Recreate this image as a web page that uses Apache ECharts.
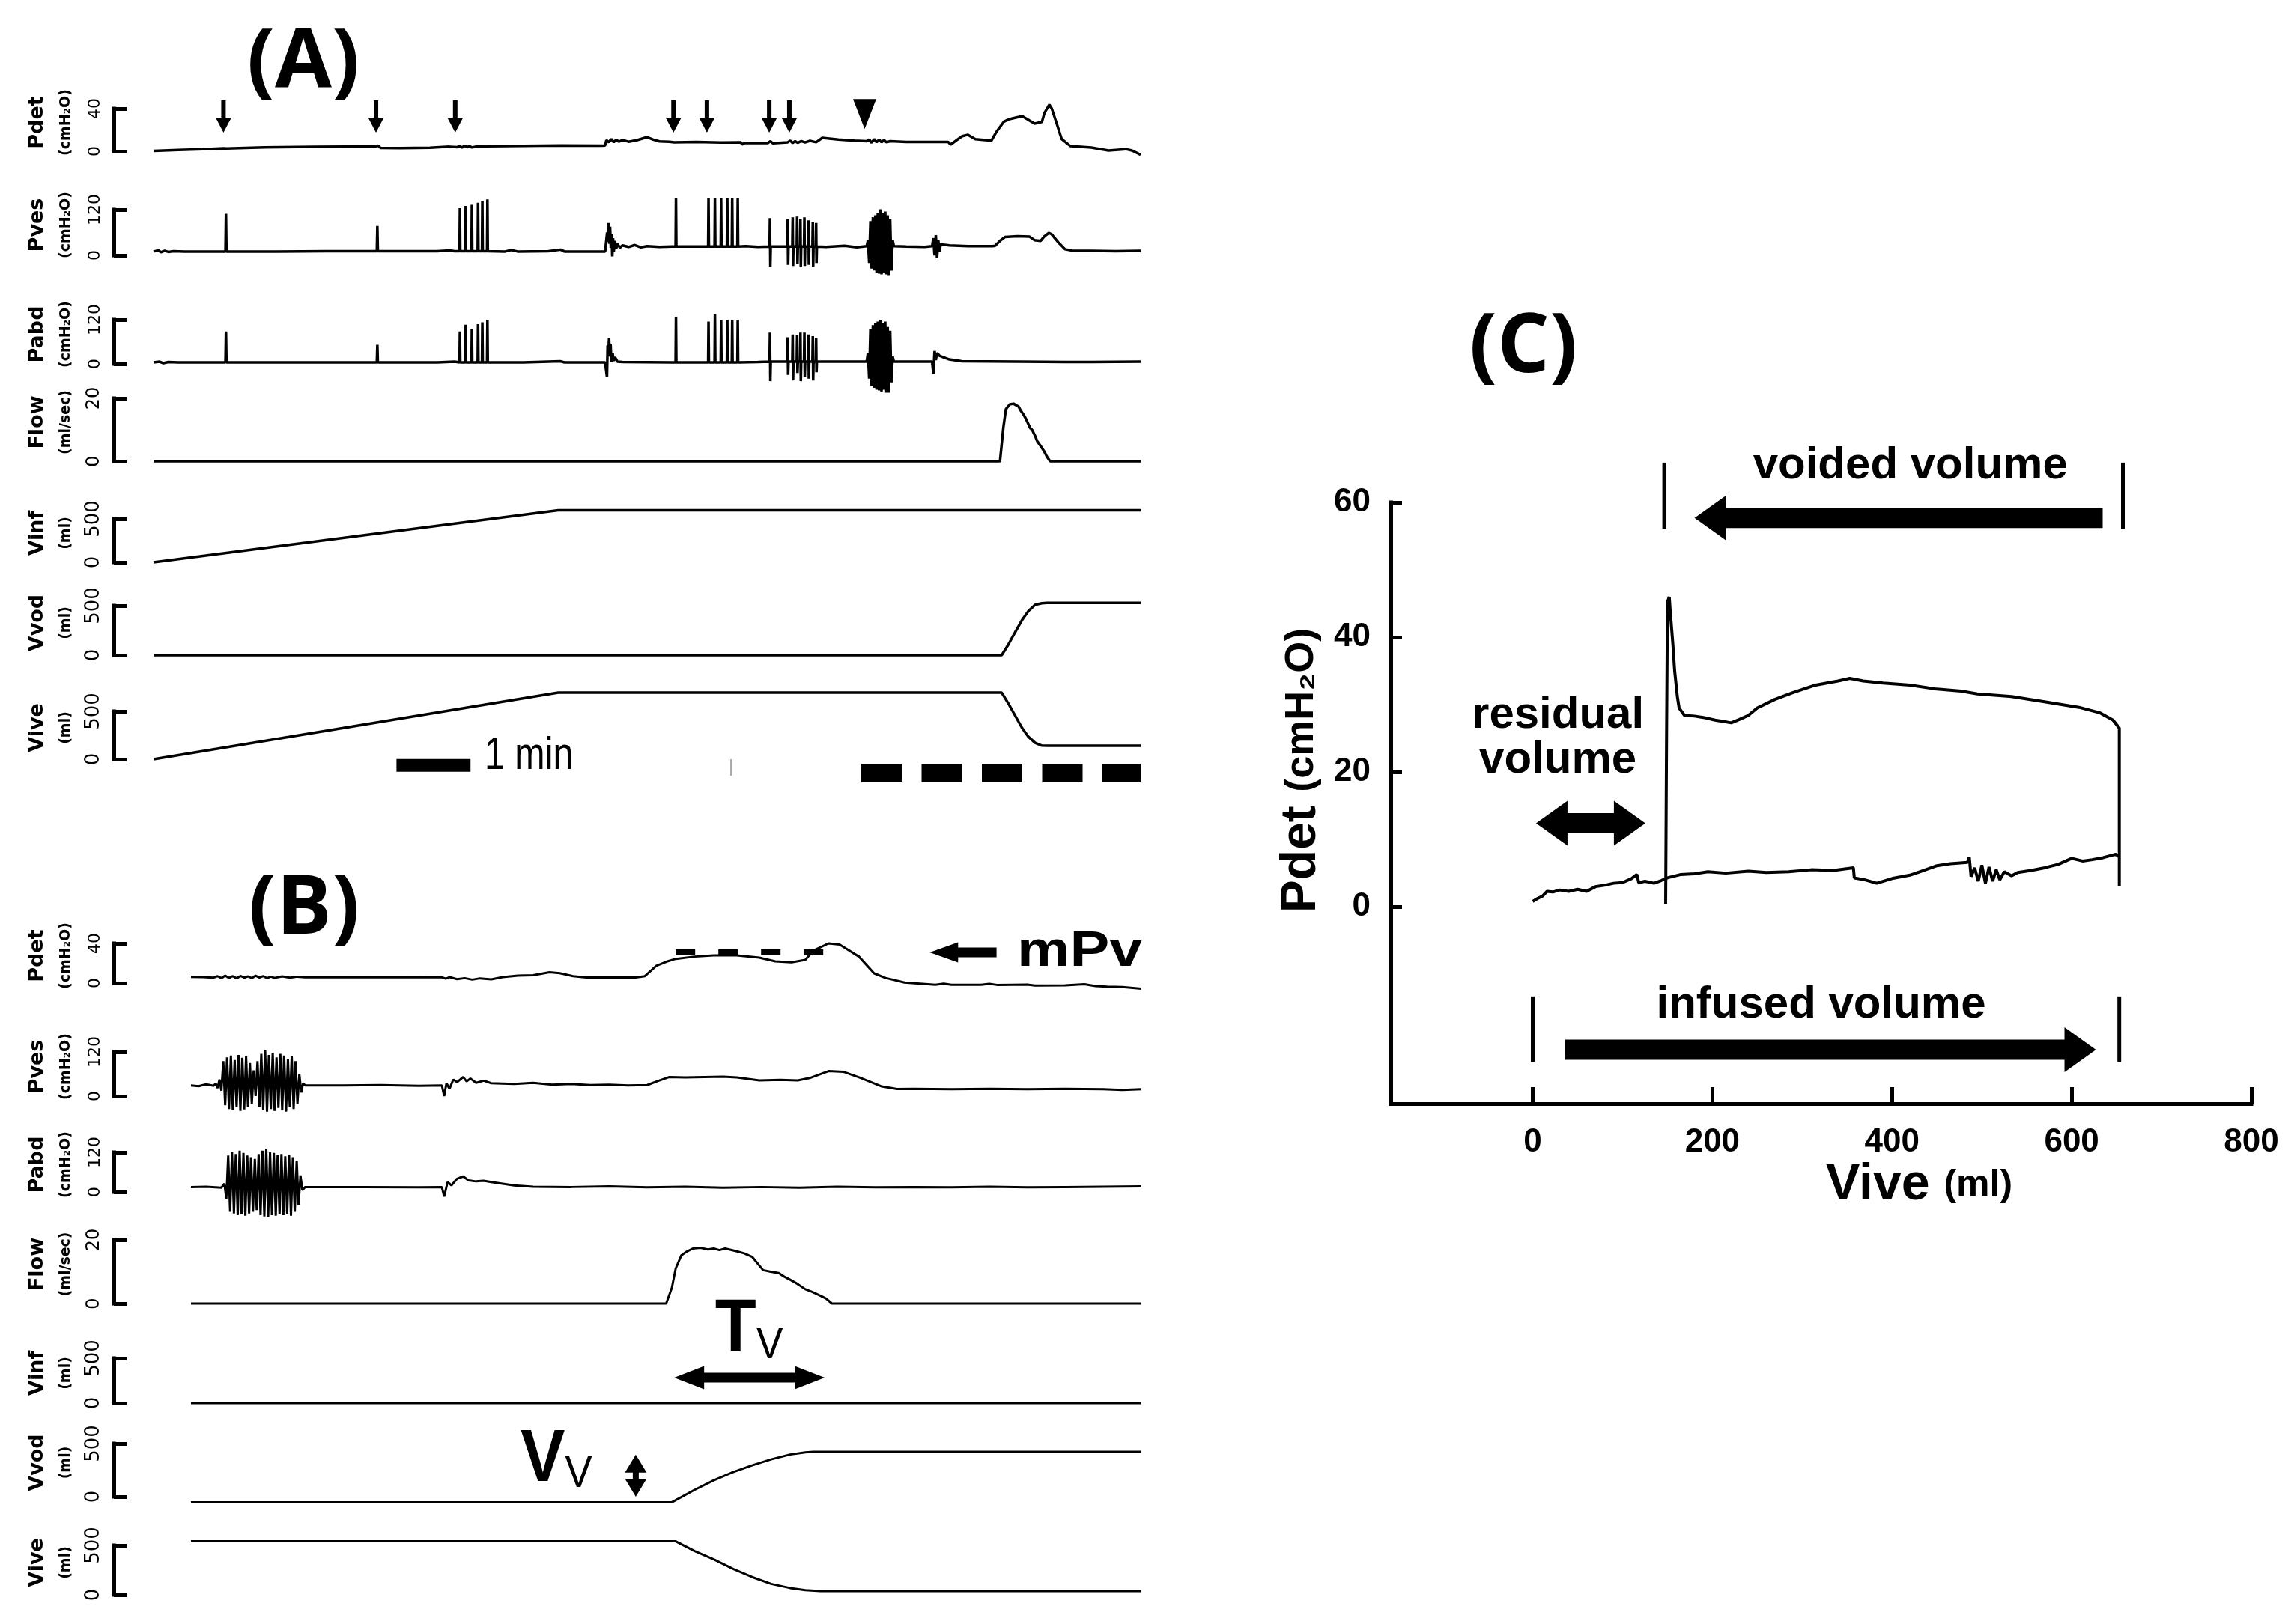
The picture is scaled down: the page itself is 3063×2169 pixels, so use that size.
<!DOCTYPE html>
<html><head><meta charset="utf-8">
<script src="https://cdn.jsdelivr.net/npm/echarts@6/dist/echarts.min.js"></script>
<style>html,body{margin:0;padding:0;background:#fff}#c{width:3063px;height:2169px}</style>
</head><body><div id="c"></div>
<script>
// ================= DATA =================
const rowNames = ['Pdet','Pves','Pabd','Flow','Vinf','Vvod','Vive'];
const rowUnits = ['(cmH₂O)','(cmH₂O)','(cmH₂O)','(ml/sec)','(ml)','(ml)','(ml)'];
const rowMax = [40,120,120,20,500,500,500];
const timeMaxA = 800, timeMaxB = 250;

// ---- Panel A traces [time s, value] ----
const aPdet = [[0,0.3],[20,1.2],[40,2],[57,2.8],[58,3.5],[59,2.6],[90,3.6],[130,4.2],[180,4.5],[182,5.3],[184,3.2],[200,3],[224,3.4],[240,4.3],[246,3.8],[248,5],[250,3.5],[252,5.2],[254,3.8],[256,4.8],[258,3.6],[262,4.6],[270,4.8],[300,5.1],[330,5.4],[363,5.2],[366,5.5],[367,10.5],[369,8.5],[371,11.5],[373,8.5],[375,11],[377,9],[380,10.5],[385,9],[392,10.5],[400,13.3],[405,11],[410,9.3],[418,9],[422,8.5],[440,8.8],[460,8.3],[476,8.5],[477,6.3],[479,7.7],[498,7.8],[500,9.5],[502,7.5],[514,8.5],[516,10],[518,7.8],[520,9.5],[522,8],[525,9.5],[528,8.3],[532,9.8],[537,8.5],[542,12.6],[555,11],[568,10],[578,9.5],[580,11],[582,8],[584,11.5],[586,8.5],[588,11],[590,8.5],[592,10.5],[594,8.5],[597,9.5],[610,8.8],[644,8.8],[646,6.3],[655,14],[660,15.5],[666,11.4],[679,10],[683,18],[689,27.6],[693,30],[704,33],[714,26],[720,27.5],[722,35.8],[726,43.7],[728,40],[732,26],[736,11.5],[743,4.9],[760,3.5],[774,0.7],[788,2],[793,0.7],[800,-3.2]];
const aPves = [[0,10],[4,13],[6,8],[9,12],[12,9],[16,11],[25,10],[58.3,10],[58.7,109],[59.1,10],[100,10],[140,11],[181,11],[181.4,77],[181.8,11],[230,11],[240,13],[244,11],[248,11],[248.3,124],[248.6,11],[252.7,11],[253,130],[253.3,11],[257.7,11],[258,133],[258.3,11],[262.7,11],[263,138],[263.3,11],[266.2,11],[266.5,143],[266.8,11],[270.3,11],[270.6,147],[270.9,11],[285,10],[290,14],[295,10],[320,11],[330,15],[333,10],[366,10],[367,10],[367.6,60],[368.2,35],[368.8,85],[369.4,30],[370,75],[370.6,20],[371.2,55],[371.8,-3],[372.4,45],[373,10],[374,38],[375,18],[376,30],[378,20],[380,26],[385,22],[390,27],[395,21],[400,24],[410,22],[420,23],[423.1,23],[423.4,151],[423.7,23],[449.5,23],[449.8,151],[450.1,23],[454.7,23],[455,151],[455.3,23],[459.7,23],[460,151],[460.3,23],[464.7,23],[465,151],[465.3,23],[468.7,23],[469,151],[469.3,23],[473.2,23],[473.5,151],[473.8,23],[480,24],[490,22],[499.3,23],[499.6,98],[499.9,-30],[500.2,23],[513.7,23],[514,95],[514.3,-25],[514.6,23],[517.7,23],[518,100],[518.3,-28],[518.6,23],[521.3,23],[521.6,102],[521.9,-22],[522.2,23],[524,23],[524.3,96],[524.6,-30],[524.9,23],[527.2,23],[527.5,100],[527.8,-28],[528.1,23],[530.5,23],[530.8,92],[531.1,-25],[531.4,23],[534,23],[534.3,88],[534.6,-30],[534.9,23],[536.7,23],[537,85],[537.3,-20],[537.6,23],[545,22],[560,25],[570,21],[578,24],[579,40],[580,-20],[581,90],[582,-35],[583,100],[584,-40],[585,105],[586,-45],[587,112],[588,-48],[589,121],[590,-50],[591,110],[592,-45],[593,115],[594,-50],[595,105],[596,-52],[597,95],[598,-40],[599,40],[600,24],[610,23],[625,22],[631,24],[632,45],[633,0],[634,53],[635,-7],[636,40],[637,10],[638,30],[640,28],[645,26],[660,24],[680,24],[682,25],[686,38],[690,48],[700,50],[710,49],[714,40],[719,38],[722,50],[725.5,59],[728,55],[733,35],[738.7,16],[745,12],[760,12],[780,11],[800,12]];
const aPabd = [[0,4],[5,6],[8,2],[12,5],[20,4],[58.3,4],[58.7,88],[59.1,4],[100,4],[181,4],[181.4,52],[181.8,4],[230,4],[244,6],[248,4],[248.3,88],[248.6,4],[252.7,4],[253,106],[253.3,4],[257.7,4],[258,95],[258.3,4],[262.7,4],[263,108],[263.3,4],[266.2,4],[266.5,113],[266.8,4],[270.3,4],[270.6,120],[270.9,4],[300,4],[330,7],[333,4],[366,4],[367,4],[367.5,-36],[368,50],[368.6,30],[369.2,69],[369.8,20],[370.4,55],[371,5],[372,30],[373,8],[374,18],[376,6],[380,5],[420,4],[423.1,4],[423.4,128],[423.7,4],[449.5,4],[449.8,115],[450.1,4],[454.7,4],[455,135],[455.3,4],[459.7,4],[460,120],[460.3,4],[464.7,4],[465,120],[465.3,4],[468.7,4],[469,120],[469.3,4],[473.2,4],[473.5,120],[473.8,4],[490,5],[499.3,6],[499.6,85],[499.9,-47],[500.2,6],[513.7,6],[514,72],[514.3,-30],[514.6,6],[517.7,6],[518,80],[518.3,-45],[518.6,6],[521.3,6],[521.6,78],[521.9,-25],[522.2,6],[524,6],[524.3,85],[524.6,-47],[524.9,6],[527.2,6],[527.5,85],[527.8,-35],[528.1,6],[530.5,6],[530.8,80],[531.1,-40],[531.4,6],[534,6],[534.3,75],[534.6,-45],[534.9,6],[536.7,6],[537,70],[537.3,-23],[537.6,6],[560,6],[578,6],[579,30],[580,-40],[581,95],[582,-60],[583,105],[584,-65],[585,110],[586,-70],[587,115],[588,-72],[589,120],[590,-75],[591,112],[592,-70],[593,115],[594,-78],[595,100],[596,-78],[597,90],[598,-50],[599,20],[600,6],[620,6],[631,6],[632,-27],[633,35],[634,10],[635,30],[637,22],[640,18],[645,12],[655,7],[700,6],[740,5],[760,5],[800,6]];
const aFlow = [[0,0],[686,0],[688.7,10.6],[690.8,16.6],[694,18.1],[697,18.3],[701,17.4],[703,16],[705,14.9],[707,13.5],[708,13.8],[710.4,10.6],[712,10],[714.4,8.1],[716,6.5],[717,6.8],[719.9,4.3],[722,3],[724,1.5],[726.6,0],[800,0]];
const aVinf = [[0,0],[328,600],[800,600]];
const aVvod = [[0,0],[687.4,0],[692.8,108],[698.2,230],[703.7,352],[709.1,447],[714.5,509],[719.9,525],[724,528],[800,528]];
const aVive = [[0,0],[328,695],[687.4,695],[692.8,581],[698.2,457],[703.7,330],[709.1,233],[714.5,171],[719.9,142],[724,140],[800,140]];

// ---- Panel B traces ----
const bPdet = [[0,6.3],[3,6],[6,5.5],[7,7],[8,5],[9,7.5],[10,5.2],[11,7],[12,4.8],[13,7.2],[14,5.5],[15,6.8],[16,5],[17,7.5],[18,5.5],[19,7],[20,5],[21,6.5],[22,5.2],[24,6.8],[26,5.5],[28,6.5],[30,5.8],[40,5.8],[55,6],[66,5.8],[67,4.5],[68,6],[70,4],[72,5],[74,3.5],[76,4.8],[79,3.8],[82,6],[86,7.5],[90,8],[94.3,11],[97,10],[100.5,7],[104,5.6],[110,5.6],[117,5.6],[119.4,7],[122.4,17.4],[125,21.5],[127.5,24.4],[132.5,26.7],[137.5,28],[143.6,28],[149.5,25.7],[153.7,21.9],[158,21],[161.6,23.4],[163.7,32.8],[167.7,40],[170.6,38.8],[175.7,26.7],[179.7,9.8],[182.7,5.2],[187.7,0.6],[195.8,-1.7],[198,-0.5],[200,-1.7],[207.8,-1.7],[210,-0.8],[212,-1.8],[220,-1.5],[222,-2.5],[230,-2.2],[235,-1.2],[238,-3],[241,-3.6],[245,-4],[250,-5.7]];
const bPves = [[0,29],[2,27],[4,32],[6,28],[6.5,35],[7,22],[7.5,45],[8,15],[8.5,95],[9,-25],[9.5,105],[10,-35],[10.5,110],[11,-38],[11.5,98],[12,-30],[12.5,112],[13,-40],[13.5,104],[14,-36],[14.5,108],[15,-30],[15.5,90],[16,-20],[16.5,70],[17,0],[17.5,95],[18,-30],[18.5,115],[19,-38],[19.5,126],[20,-42],[20.5,112],[21,-35],[21.5,118],[22,-40],[22.5,105],[23,-32],[23.5,115],[24,-38],[24.5,110],[25,-42],[25.5,100],[26,-30],[26.5,108],[27,-35],[27.5,95],[28,-20],[28.5,60],[29,10],[29.5,35],[30,29],[40,29],[50,30],[60,28],[66,29],[66.6,0],[67.2,35],[68,20],[69,45],[70,38],[71.6,52],[72.5,40],[73.5,48],[75,36],[77,42],[79,35],[85,33],[90,36],[95,31],[100,33],[105,30],[110,31],[115,29],[120,30],[122.5,40],[125.7,51.7],[130,51],[135,52],[140,53],[143.6,51],[149.5,42.7],[155,44],[159.6,42.7],[163,50],[167.7,68],[171.7,66],[176,50],[181.7,26.4],[185.7,19.3],[190,20],[200,19],[210,20],[220,19],[230,20],[240,19],[245,17],[250,19]];
const bPabd = [[0,14.6],[4,16],[8,13],[8.8,25],[9.3,-20],[9.8,110],[10.3,-60],[10.8,120],[11.3,-65],[11.8,115],[12.3,-70],[12.8,125],[13.3,-68],[13.8,118],[14.3,-72],[14.8,110],[15.3,-65],[15.8,105],[16.3,-60],[16.8,100],[17.3,-55],[17.8,115],[18.3,-70],[18.8,125],[19.3,-74],[19.8,131],[20.3,-76],[20.8,120],[21.3,-70],[21.8,118],[22.3,-72],[22.8,112],[23.3,-68],[23.8,115],[24.3,-70],[24.8,108],[25.3,-66],[25.8,112],[26.3,-72],[26.8,105],[27.3,-60],[27.8,95],[28.3,-40],[28.8,50],[29.3,5],[30,14.6],[45,15],[60,14],[66,14.6],[66.6,-14],[67.5,30],[68.5,20],[70,40],[71.6,47],[73,35],[75,32],[77,34],[79,30],[85,20],[90,16],[100,15],[110,17],[120,14],[130,16],[140,13],[150,15],[160,13],[170,16],[180,14],[190,15],[200,14],[210,16],[220,14],[230,15],[240,16],[250,17]];
const bFlow = [[0,0],[125,0],[126.5,5],[127.5,11],[129,15.2],[130.5,16.4],[132,17.3],[134,17.5],[136,17],[137.5,17.3],[139,16.8],[140.5,17.3],[142,16.9],[143.6,16.4],[145.5,15.8],[147.6,14.7],[150.5,10.5],[152.5,10],[154.6,9.6],[156,8.5],[157.6,7.5],[159.5,6.2],[161.6,4.5],[163.5,3.6],[165.7,2.4],[167,1.6],[168.6,0],[250,0]];
const bVinf = [[0,0],[250,0]];
const bVvod = [[0,-52],[126.5,-52],[132.5,65],[137.5,154],[142.6,231],[147.6,295],[152.6,351],[157.6,397],[161.6,418],[163.7,423],[250,423]];
const bVive = [[0,541],[127.5,541],[132.5,442],[137.5,359],[142.6,263],[147.6,180],[152.6,111],[157.6,69],[161.6,47],[165.6,37],[250,37]];

// ---- Panel C: Pdet vs Vive ----
const cFill = [[0,0.8],[5,1.2],[11,1.6],[16,2.3],[22.5,2.2],[30,2.5],[40,2.3],[50,2.6],[60,2.3],[70,3],[80,3.2],[90,3.5],[100,3.6],[110,4.2],[116,4.8],[118,3.6],[125,3.8],[135,3.5],[143,3.9],[150,4.3],[165,4.8],[180,4.9],[195,5.2],[215,5.0],[240,5.3],[260,5.1],[285,5.2],[310,5.5],[335,5.4],[357,5.8],[358,4.3],[370,4.0],[383,3.5],[400,4.2],[420,4.7],[435,5.4],[450,6.1],[465,6.4],[484,6.6],[486,7.4],[488,4.5],[492,5.8],[496,3.8],[500,6.2],[504,3.5],[508,5.9],[512,3.8],[516,5.5],[520,4.0],[525,5.2],[533,4.6],[540,5.1],[555,5.4],[570,5.8],[585,6.3],[600,7.2],[612,6.8],[623,7],[635,7.3],[649,7.8],[653,7.4]];
const cVoid = [[653,3.1],[653,26.5],[646,27.7],[631,28.8],[608,29.6],[571,30.4],[533,31.2],[495,31.6],[477,32],[450,32.3],[420,32.9],[390,33.2],[368,33.5],[353,33.9],[340,33.5],[315,32.9],[290,31.8],[270,30.8],[250,29.5],[240,28.4],[230,27.8],[221,27.3],[212,27.5],[203,27.7],[190,28.1],[180,28.3],[169,28.4],[163,29.5],[161,31.2],[158,35],[156,39],[153,44],[152,46],[150,45.2],[149,24.9],[148,0.4]];
const cXTicks = [0,200,400,600,800];
const cYTicks = [0,20,40,60];

// ---- Annotations (data coordinates) ----
const aArrowTimes = [56.7,180.3,244.5,421.4,448.5,499,515.3];
const aArrowFrom = 47.7, aArrowTo = 17.5;
const aTriangle = [[576.3,35]];
const aScaleBar = [[196.9,-65,256.9,-65]];           // 1 min = 60 s
const aScaleText = [[268.3,31]];
const aVoidBar = [[573.6,-145,800,-145]];
const aFaintTick = [[468,0,468,-172]];
const bMpvLine = [[127.5,31.1,166.7,31.1]];
const bMpvArrow = [[211.9,31,194.3,31,0,1]];
const bMpvText = [[233.8,31.3]];
const bTvArrow = [[127.1,283,166.7,283,1,1]];
const bTvText = [[146.8,808]];
const bVvArrow = [[117,397,117,0,1,1]];
const bVvText = [[96.1,347]];
const cArrows = [[634.5,57.7,180.2,57.7,0,1],[36,-21.2,627,-21.2,0,1],[3.7,12.4,125.4,12.4,1,1]];
const cBars = [[146.4,65.9,146.4,56.1],[657,65.9,657,56.1],[0,-13.3,0,-23],[653,-13.3,653,-23]];
const cTexts = ['voided volume','residual\nvolume','infused volume'];
const cTextPos = [[420.4,65.4],[28,25.1],[321,-14.6]];

// ================= LAYOUT / STYLE =================
const bracketX = 152;
const layoutA = {left:205, right:1523, tops:[145,280,427,532,693,809,950], bottoms:[202,341,486,616,751,875,1014]};
const layoutB = {left:255, right:1524, tops:[1260,1405,1539,1656,1814,1928,2064], bottoms:[1313,1464,1592,1741,1874,1999,2130]};
const rowLabelFont = [22,22,22,24,26,26,26];
const FONT = '"Liberation Sans", Arial, sans-serif';
const DJV = '"DejaVu Sans", Verdana, sans-serif';

const grids = [], xAxes = [], yAxes = [], series = [];

function addRow(i, layout, tMax, data, lw) {
  const gi = grids.length;
  const dx = layout.left - bracketX;
  grids.push({left: layout.left, top: layout.tops[i], width: layout.right - layout.left,
    height: layout.bottoms[i] - layout.tops[i], containLabel:false, outerBoundsMode:'none'});
  xAxes.push({gridIndex:gi, type:'value', min:0, max:tMax, show:false});
  yAxes.push({
    gridIndex:gi, type:'value', min:0, max:rowMax[i], interval:rowMax[i],
    position:'left', offset: dx,
    axisLine:{show:true, onZero:false, lineStyle:{color:'#000', width:5, cap:'square'}},
    axisTick:{show:true, inside:true, length:17, lineStyle:{color:'#000', width:5}},
    axisLabel:{show:false}, splitLine:{show:false}
  });
  series.push({type:'line', xAxisIndex:gi, yAxisIndex:gi, data:data, symbol:'none', showSymbol:false,
    clip:false, silent:true, lineStyle:{color:'#000', width:lw}, z:2});
  const fs = rowLabelFont[i];
  series.push({type:'custom', xAxisIndex:gi, yAxisIndex:gi, data:[[0,0],[0,rowMax[i]]], clip:false, silent:true, z:3,
    renderItem:function (params, api) {
      const v = api.value(1); const p = api.coord([0, v]);
      return {type:'text', x:p[0]-dx-14, y:p[1], rotation:Math.PI/2,
        style:{text:String(v), font:fs + 'px ' + DJV, fill:'#000', align:'center', verticalAlign:'bottom'}};
    }});
  series.push({type:'custom', xAxisIndex:gi, yAxisIndex:gi, data:[[0,rowMax[i]/2]], clip:false, silent:true, z:3,
    renderItem:function (params, api) {
      const p = api.coord([0, api.value(1)]);
      return {type:'text', x:p[0]-dx-50, y:p[1]-10, rotation:Math.PI/2,
        style:{text:'{a|' + rowNames[i] + '}\n{b|' + rowUnits[i] + '}', align:'center', verticalAlign:'bottom',
          rich:{a:{font:'bold 27px ' + DJV, fill:'#000', lineHeight:48, align:'center'},
                b:{font:'bold 19px ' + DJV, fill:'#000', lineHeight:28, align:'center'}}}};
    }});
  return gi;
}

function arrowRender(sw, hw, hl) {
  return function (params, api) {
    const p1 = api.coord([api.value(0), api.value(1)]);
    const p2 = api.coord([api.value(2), api.value(3)]);
    const h1 = api.value(4), h2 = api.value(5);
    const dx = p2[0]-p1[0], dy = p2[1]-p1[1], L = Math.hypot(dx, dy);
    const ux = dx/L, uy = dy/L, nx = -uy, ny = ux;
    const A = h1 ? [p1[0]+ux*hl, p1[1]+uy*hl] : p1;
    const B = h2 ? [p2[0]-ux*hl, p2[1]-uy*hl] : p2;
    const off = (P, k) => [P[0]+nx*k, P[1]+ny*k];
    const pts = [];
    if (h1) { pts.push(p1); pts.push(off(A, hw/2)); }
    pts.push(off(A, sw/2)); pts.push(off(B, sw/2));
    if (h2) { pts.push(off(B, hw/2)); pts.push(p2); pts.push(off(B, -hw/2)); }
    pts.push(off(B, -sw/2)); pts.push(off(A, -sw/2));
    if (h1) { pts.push(off(A, -hw/2)); }
    return {type:'polygon', shape:{points:pts}, style:{fill:'#000'}};
  };
}
function segRender(width, color, dash) {
  return function (params, api) {
    const p1 = api.coord([api.value(0), api.value(1)]);
    const p2 = api.coord([api.value(2), api.value(3)]);
    return {type:'line', shape:{x1:p1[0], y1:p1[1], x2:p2[0], y2:p2[1]},
      style:{stroke:color, lineWidth:width, lineDash:dash || null, lineCap:'butt'}};
  };
}
function textRender(texts, style, sx) {
  return function (params, api) {
    const p = api.coord([api.value(0), api.value(1)]);
    return {type:'text', x:p[0], y:p[1], scaleX: sx || 1,
      style:Object.assign({text:texts[params.dataIndex], fill:'#000'}, style)};
  };
}
function custom(gi, data, renderItem, z) {
  series.push({type:'custom', xAxisIndex:gi, yAxisIndex:gi, data:data, renderItem:renderItem,
    silent:true, clip:false, z:z || 3});
}

// ---- Panel A ----
const aData = [aPdet, aPves, aPabd, aFlow, aVinf, aVvod, aVive];
const aIdx = aData.map((d, i) => addRow(i, layoutA, timeMaxA, d, 3.5));
custom(aIdx[0], aArrowTimes.map(t => [t, aArrowFrom, t, aArrowTo, 0, 1]), arrowRender(6, 21, 20));
series.push({type:'scatter', xAxisIndex:aIdx[0], yAxisIndex:aIdx[0], data:aTriangle, symbol:'triangle',
  symbolRotate:180, symbolSize:[31,40], itemStyle:{color:'#000', opacity:1}, clip:false, silent:true, z:4});
custom(aIdx[6], aScaleBar, segRender(17, '#000'));
custom(aIdx[6], aVoidBar, segRender(25, '#000', [54, 26.5]));
custom(aIdx[6], aFaintTick, segRender(2, '#aaa'));
custom(aIdx[6], aScaleText, textRender(['1 min'], {font:'62px ' + FONT, align:'left', verticalAlign:'middle'}, 0.78));

// ---- Panel B ----
const bData = [bPdet, bPves, bPabd, bFlow, bVinf, bVvod, bVive];
const bIdx = bData.map((d, i) => addRow(i, layoutB, timeMaxB, d, 3));
custom(bIdx[0], bMpvLine, segRender(8, '#000', [26, 31]));
custom(bIdx[0], bMpvArrow, arrowRender(13, 27, 38));
custom(bIdx[0], bMpvText, textRender(['mPv'], {font:'bold 66px ' + FONT, align:'center', verticalAlign:'middle'}, 1.2));
custom(bIdx[4], bTvArrow, arrowRender(13, 31, 40));
custom(bIdx[4], bTvText, textRender(['{T|T}{v|V}'], {align:'center', verticalAlign:'middle', rich:{
  T:{font:'bold 100px ' + FONT, fill:'#000', lineHeight:100, verticalAlign:'bottom'},
  v:{font:'60px ' + FONT, fill:'#000', lineHeight:72, verticalAlign:'bottom'}}}, 0.9));
custom(bIdx[5], bVvArrow, arrowRender(8, 29, 24));
custom(bIdx[5], bVvText, textRender(['{V|V}{v|V}'], {align:'center', verticalAlign:'middle', rich:{
  V:{font:'bold 99px ' + FONT, fill:'#000', lineHeight:100, verticalAlign:'bottom'},
  v:{font:'60px ' + FONT, fill:'#000', lineHeight:72, verticalAlign:'bottom'}}}, 0.9));

// ---- Panel C ----
const cGi = grids.length;
grids.push({left:1857, top:671, width:1149, height:803, containLabel:false, outerBoundsMode:'none'});
xAxes.push({gridIndex:cGi, type:'value', min:-158, max:800,
  axisLine:{show:true, onZero:false, lineStyle:{color:'#000', width:5, cap:'square'}},
  axisTick:{show:true, inside:true, length:22, customValues:cXTicks, lineStyle:{color:'#000', width:5}},
  axisLabel:{show:true, customValues:cXTicks, margin:30, color:'#000', fontFamily:FONT, fontWeight:'bold', fontSize:44},
  splitLine:{show:false},
  name:'{a|Vive }{b|(ml)}', nameLocation:'middle', nameGap:75, nameMoveOverlap:false,
  nameTruncate:{maxWidth:3000},
  nameTextStyle:{padding:[0,0,0,262], rich:{
    a:{fontSize:68, fontWeight:'bold', fontFamily:FONT, color:'#000'},
    b:{fontSize:50, fontWeight:'bold', fontFamily:FONT, color:'#000'}}}
});
yAxes.push({gridIndex:cGi, type:'value', min:-29.2, max:60,
  axisLine:{show:true, onZero:false, lineStyle:{color:'#000', width:5, cap:'square'}},
  axisTick:{show:true, inside:true, length:15, customValues:cYTicks, lineStyle:{color:'#000', width:5}},
  axisLabel:{show:true, customValues:cYTicks, margin:27, color:'#000', fontFamily:FONT, fontWeight:'bold', fontSize:44},
  splitLine:{show:false},
  name:'{a|Pdet }{b|(cmH₂O)}', nameLocation:'middle', nameRotate:90, nameGap:86, nameMoveOverlap:false,
  nameTruncate:{maxWidth:3000},
  nameTextStyle:{padding:[0,0,0,87], rich:{
    a:{fontSize:66, fontWeight:'bold', fontFamily:FONT, color:'#000'},
    b:{fontSize:54, fontWeight:'bold', fontFamily:FONT, color:'#000'}}}
});
series.push({type:'line', xAxisIndex:cGi, yAxisIndex:cGi, data:cFill, symbol:'none', clip:false, silent:true,
  lineStyle:{color:'#000', width:4}});
series.push({type:'line', xAxisIndex:cGi, yAxisIndex:cGi, data:cVoid, symbol:'none', clip:false, silent:true,
  lineStyle:{color:'#000', width:4}});
custom(cGi, cArrows, arrowRender(27, 60, 42));
custom(cGi, cBars, segRender(5, '#000'));
custom(cGi, cTextPos, textRender(cTexts, {font:'bold 60px ' + FONT, align:'center', verticalAlign:'middle', lineHeight:60}));

// ---- panel letters ----
const panelLabels = [
  {text:'(A)', x:405, y:86},
  {text:'(B)', x:406, y:1216},
  {text:'(C)', x:2034, y:466}
];

const chart = echarts.init(document.getElementById('c'), null, {renderer:'canvas', width:3063, height:2169, devicePixelRatio:1});
chart.setOption({
  backgroundColor:'#fff',
  animation:false,
  grid:grids, xAxis:xAxes, yAxis:yAxes, series:series,
  graphic: panelLabels.map(p => ({type:'text', x:p.x, y:p.y, silent:true,
    style:{text:p.text, font:'bold 110px "Open Sans", "Noto Sans", sans-serif', fill:'#000', align:'center', verticalAlign:'middle'}}))
});
</script>
</body></html>
